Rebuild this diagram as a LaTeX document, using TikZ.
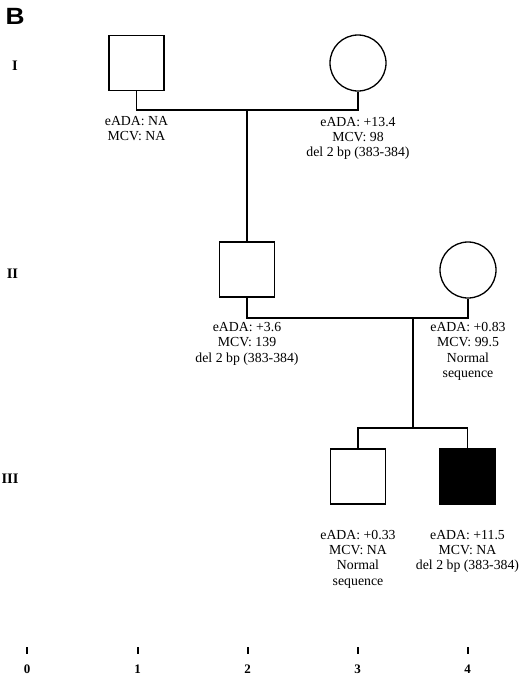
\documentclass[tikz,border=0pt]{standalone}
\usepackage{fontspec}
\setmainfont{Liberation Serif}
\newfontfamily\headfont{Liberation Sans}
\usepackage{tikz}

\begin{document}
\begin{tikzpicture}[x=1pt, y=-1pt,
    male/.style={draw, line width=1.3pt, minimum size=55pt, inner sep=0pt},
    female/.style={draw, circle, line width=1.3pt, minimum size=56pt, inner sep=0pt},
    affected/.style={fill=black},
    info/.style={anchor=base, align=center, inner sep=0pt, font=\fontsize{13.8}{15.4}\selectfont},
    gen/.style={anchor=base, inner sep=0pt, font=\fontsize{14.5}{16}\selectfont\bfseries},
    tick/.style={line width=2pt},
    axis/.style={anchor=base, inner sep=0pt, font=\fontsize{13}{14}\selectfont\bfseries}]
  \useasboundingbox (0,0) rectangle (520,678);

  % Panel letter
  \node[anchor=base west, inner sep=0pt, font=\fontsize{23.5}{25}\headfont\bfseries] (panel) at (5.5,24.5) {\scalebox{1.12}[1]{B}};

  % Generation labels
  \node[gen] (genI) at (15,70) {I};
  \node[gen] (genII) at (12.5,278) {II};
  \node[gen] (genIII) at (10,483) {III};

  % Generation I (base = last line)
  \node[male] (I1) at (136.5,63) {};
  \node[female] (I2) at (358,63) {};
  \node[info] (I1lab) at (136.5,140.4) {eADA: NA\\MCV: NA};
  \node[info] (I2lab) at (358,156.8) {eADA: +13.4\\MCV: 98\\del 2 bp (383-384)};

  % Generation II
  \node[male] (II1) at (247,269.5) {};
  \node[female] (II2) at (468,270) {};
  \node[info] (II1lab) at (247,362.3) {eADA: +3.6\\MCV: 139\\del 2 bp (383-384)};
  \node[info] (II2lab) at (468,377.7) {eADA: +0.83\\MCV: 99.5\\Normal\\sequence};

  % Generation III
  \node[male] (III1) at (358,476.5) {};
  \node[male, affected] (III2) at (467.5,476.5) {};
  \node[info] (III1lab) at (358,585.2) {eADA: +0.33\\MCV: NA\\Normal\\sequence};
  \node[info] (III2lab) at (467.5,569.8) {eADA: +11.5\\MCV: NA\\del 2 bp (383-384)};

  % Matings and descent lines
  \coordinate (m1) at (247,110);
  \coordinate (m2) at (413,318);
  \coordinate (s3) at (413,428);
  \draw[line width=1.5pt] (I1.south) |- (m1) -| (I2.south);
  \draw[line width=1.5pt] (m1) -- (II1.north);
  \draw[line width=1.5pt] (II1.south) |- (m2) -| (II2.south);
  \draw[line width=1.5pt] (m2) -- (s3);
  \draw[line width=1.5pt] (III1.north) |- (s3) -| (III2.north);

  % Scale
  \foreach \i/\x in {0/27,1/137.5,2/247.5,3/357.5,4/467.5} {
    \draw[tick] (\x,647) -- (\x,654);
    \node[axis] (ax\i) at (\x,673) {\i};
  }
\end{tikzpicture}
\end{document}
